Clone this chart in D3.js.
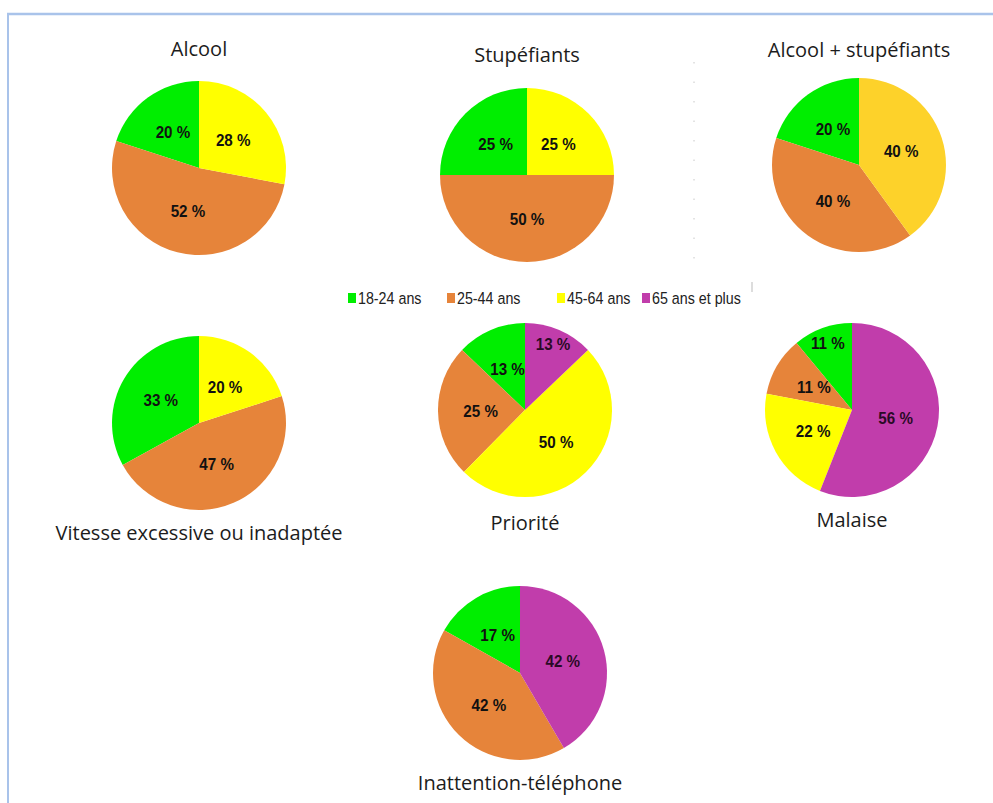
<!DOCTYPE html>
<html>
<head>
<meta charset="utf-8">
<script src="https://cdn.jsdelivr.net/npm/d3@7"></script>
<style>
  body { margin: 0; background: #fff; }
  .title { font-family: 'Open Sans', 'Noto Sans', sans-serif; fill: #1c1c1c; }
  .slice-label { font-family: 'Liberation Sans', Arial, sans-serif; font-weight: bold; }
  .legend text { font-family: 'Liberation Sans Narrow', 'Arial Narrow', 'Liberation Sans', sans-serif; }
</style>
</head>
<body>
<div id="chart"></div>
<script>
// age groups (legend order) and their colours
const ageGroups = ['18-24 ans', '25-44 ans', '45-64 ans', '65 ans et plus'];
const ageColors = ['#00ee00', '#e6843a', '#ffff00', '#c13dab'];

// one value per age group, same order as ageGroups (0 = no slice)
const alcool = [20, 52, 28, 0];
const stupefiants = [25, 50, 25, 0];
const alcoolStupefiants = [20, 40, 40, 0];
const vitesse = [33, 47, 20, 0];
const priorite = [13, 25, 50, 13];
const malaise = [11, 11, 22, 56];
const inattention = [17, 42, 0, 42];

const chartTitles = [
  'Alcool',
  'Stupéfiants',
  'Alcool + stupéfiants',
  'Vitesse excessive ou inadaptée',
  'Priorité',
  'Malaise',
  'Inattention-téléphone',
];
const chartValues = [alcool, stupefiants, alcoolStupefiants, vitesse, priorite, malaise, inattention];

// layout of the panels: centre, title baseline offset, and labels pushed outward
const panels = [
  { cx: 199, cy: 168, titleDy: -112 },
  { cx: 527, cy: 175, titleDy: -113 },
  { cx: 859, cy: 165, titleDy: -108, yellow: '#fdd22a' },
  { cx: 199, cy: 423, titleDy: 117 },
  { cx: 525, cy: 410, titleDy: 120, push: [3] },
  { cx: 852, cy: 410, titleDy: 117, push: [0] },
  { cx: 520, cy: 673, titleDy: 117 },
];

class PieGrid {
  constructor(containerId, width, height) {
    this.width = width;
    this.height = height;
    this.svg = d3.select(`#${containerId}`).append('svg').attr('width', width).attr('height', height);
    this.radius = 87;

    this.color = d3.scaleOrdinal().domain(ageGroups).range(ageColors);

    // clockwise from 12 o'clock: oldest group first
    this.pie = d3
      .pie()
      .value((d) => d.value)
      .sort((a, b) => b.i - a.i);
    this.arc = d3.arc().innerRadius(0).outerRadius(this.radius);
  }

  drawFrame() {
    // light blue frame of the screenshot
    this.svg.append('line').attr('x1', 7).attr('x2', this.width).attr('y1', 14).attr('y2', 14)
      .attr('stroke', '#a9c3ea').attr('stroke-width', 2.5);
    this.svg.append('line').attr('x1', 8).attr('x2', 8).attr('y1', 13).attr('y2', this.height)
      .attr('stroke', '#a9c3ea').attr('stroke-width', 2);

    // faint dotted separator behind the top-right pie
    this.svg.append('line').attr('x1', 694).attr('x2', 694).attr('y1', 62).attr('y2', 272)
      .attr('stroke', '#c8c8c8').attr('stroke-dasharray', '1.5,18');
    this.svg.append('line').attr('x1', 752).attr('x2', 752).attr('y1', 282).attr('y2', 292)
      .attr('stroke', '#bbb');
  }

  drawPie(title, values, panel) {
    const g = this.svg.append('g').attr('transform', `translate(${panel.cx},${panel.cy})`);
    const data = values
      .map((v, i) => ({ group: ageGroups[i], value: v, i: i }))
      .filter((d) => d.value > 0);
    const arcs = this.pie(data);

    g.selectAll('path')
      .data(arcs)
      .enter()
      .append('path')
      .attr('d', this.arc)
      .attr('fill', (d) => (d.data.i === 2 && panel.yellow ? panel.yellow : this.color(d.data.group)));

    const push = panel.push || [];
    g.selectAll('text.slice-label')
      .data(arcs)
      .enter()
      .append('text')
      .attr('class', 'slice-label')
      .attr('transform', (d) => {
        const r = push.includes(d.data.i) ? this.radius * 0.82 : this.radius * 0.51;
        const a = (d.startAngle + d.endAngle) / 2;
        // a touch condensed like the original labels
        return `translate(${Math.sin(a) * r},${-Math.cos(a) * r}) scale(0.92,1)`;
      })
      .attr('text-anchor', 'middle')
      .attr('dy', '0.36em')
      .attr('font-size', 16.5)
      .attr('fill', (d) => (d.data.i === 3 ? '#2a0a26' : '#111'))
      .text((d) => d.data.value + ' %');

    g.append('text')
      .attr('class', 'title')
      .attr('text-anchor', 'middle')
      .attr('y', panel.titleDy)
      .attr('font-size', 20)
      .text(title);
  }

  drawLegend() {
    const xs = [348, 447, 557, 642];
    const lg = this.svg.append('g').attr('class', 'legend').attr('transform', 'translate(0,298)');
    const item = lg
      .selectAll('g')
      .data(ageGroups)
      .enter()
      .append('g')
      .attr('transform', (d, i) => `translate(${xs[i]},0)`);
    item.append('rect').attr('x', 0).attr('y', -5).attr('width', 8).attr('height', 10).attr('fill', (d) => this.color(d));
    // no narrow font installed, so squeeze the text horizontally
    item
      .append('text')
      .attr('transform', 'translate(10,6) scale(0.84,1)')
      .attr('font-size', 17)
      .attr('fill', '#222')
      .text((d) => d);
  }
}

window.onload = function () {
  const grid = new PieGrid('chart', 993, 803);
  grid.drawFrame();
  chartTitles.forEach((t, i) => grid.drawPie(t, chartValues[i], panels[i]));
  grid.drawLegend();
};
</script>
</body>
</html>
